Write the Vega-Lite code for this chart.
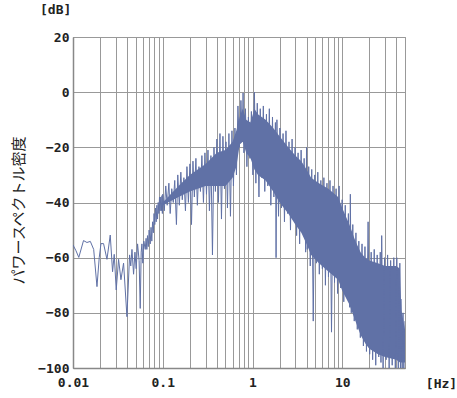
{
  "$schema": "https://vega.github.io/schema/vega-lite/v6.json",
  "autosize": "none",
  "width": 332,
  "height": 331,
  "padding": {"left": 73, "top": 37, "right": 52, "bottom": 30},
  "background": "white",
  "title": {"text": "[dB]", "anchor": "start", "frame": "group", "dx": -33, "dy": 12, "offset": 13, "baseline": "bottom", "font": "DejaVu Sans Mono", "fontWeight": "bold", "fontSize": 13, "color": "#222"},
  "datasets": {
    "band": [
      {"f":0.1,"hi":-40,"lo":-41},{"f":0.15,"hi":-34,"lo":-38},{"f":0.2,"hi":-30,"lo":-36},{"f":0.3,"hi":-26,"lo":-34},
      {"f":0.4,"hi":-22,"lo":-34},{"f":0.5,"hi":-21,"lo":-34},{"f":0.6,"hi":-18,"lo":-31},{"f":0.66,"hi":-14,"lo":-27},
      {"f":0.72,"hi":-9,"lo":-19},{"f":0.78,"hi":-6,"lo":-18},{"f":0.85,"hi":-10,"lo":-22},{"f":0.95,"hi":-11,"lo":-24},
      {"f":1.05,"hi":-6,"lo":-28},{"f":1.15,"hi":-8,"lo":-30},{"f":1.4,"hi":-10,"lo":-32},{"f":1.7,"hi":-13,"lo":-36},
      {"f":2.0,"hi":-16,"lo":-40},{"f":2.5,"hi":-20,"lo":-44},{"f":3.0,"hi":-23,"lo":-48},{"f":3.5,"hi":-25,"lo":-51},
      {"f":4.0,"hi":-28,"lo":-55},{"f":4.5,"hi":-31,"lo":-59},{"f":5.5,"hi":-33,"lo":-62},{"f":7,"hi":-35,"lo":-65},
      {"f":9,"hi":-38,"lo":-68},{"f":10,"hi":-42,"lo":-72},{"f":12,"hi":-48,"lo":-77},{"f":14,"hi":-54,"lo":-83},
      {"f":16,"hi":-58,"lo":-88},{"f":18,"hi":-60,"lo":-91},{"f":20,"hi":-61,"lo":-93},{"f":25,"hi":-62,"lo":-95},
      {"f":30,"hi":-63,"lo":-96},{"f":40,"hi":-63,"lo":-97},{"f":44,"hi":-64,"lo":-98},{"f":45.5,"hi":-79,"lo":-98},
      {"f":50,"hi":-86,"lo":-98}
    ],
    "spec": [
    {"f":0.0100,"db":-55.4},{"f":0.0108,"db":-57.5},{"f":0.0116,"db":-59.9},{"f":0.0131,"db":-53.8},{"f":0.0143,"db":-54.5},
    {"f":0.0156,"db":-54.1},{"f":0.0170,"db":-57},{"f":0.0185,"db":-70.5},{"f":0.0196,"db":-60},{"f":0.0205,"db":-54.9},
    {"f":0.0219,"db":-54.9},{"f":0.0239,"db":-60.6},{"f":0.0260,"db":-51.8},{"f":0.0276,"db":-65.1},{"f":0.0288,"db":-58.8},
    {"f":0.0303,"db":-71.7},{"f":0.0322,"db":-60.6},{"f":0.0342,"db":-68},{"f":0.0366,"db":-62},{"f":0.0399,"db":-81.4},
    {"f":0.0427,"db":-59},{"f":0.0440,"db":-63},{"f":0.0454,"db":-57},{"f":0.0473,"db":-66},{"f":0.0490,"db":-58},
    {"f":0.0506,"db":-64},{"f":0.0524,"db":-55},{"f":0.0545,"db":-61},{"f":0.0561,"db":-78.4},{"f":0.0575,"db":-58},
    {"f":0.0586,"db":-55},{"f":0.0600,"db":-62},{"f":0.0615,"db":-54},{"f":0.0638,"db":-57},{"f":0.0652,"db":-53},
    {"f":0.0665,"db":-57},{"f":0.0676,"db":-52},{"f":0.0690,"db":-56},{"f":0.0705,"db":-50},{"f":0.0725,"db":-55},
    {"f":0.0740,"db":-49},{"f":0.0755,"db":-54},{"f":0.0770,"db":-47},{"f":0.0785,"db":-51},{"f":0.0800,"db":-44},
    {"f":0.0815,"db":-48},{"f":0.0830,"db":-42},{"f":0.0845,"db":-47},{"f":0.0860,"db":-41},{"f":0.0875,"db":-46},
    {"f":0.0890,"db":-40},{"f":0.0905,"db":-44},{"f":0.0920,"db":-38},{"f":0.0935,"db":-43},{"f":0.0950,"db":-38},
    {"f":0.0965,"db":-43},{"f":0.0980,"db":-37.5},{"f":0.0990,"db":-44},
    {"f":0.100,"db":-37},{"f":0.104,"db":-43},{"f":0.108,"db":-34},{"f":0.112,"db":-41},{"f":0.117,"db":-33},
    {"f":0.121,"db":-44},{"f":0.126,"db":-35},{"f":0.131,"db":-40},{"f":0.136,"db":-32},{"f":0.142,"db":-48},
    {"f":0.147,"db":-30},{"f":0.153,"db":-41},{"f":0.159,"db":-29},{"f":0.165,"db":-39},{"f":0.172,"db":-31},
    {"f":0.179,"db":-43},{"f":0.186,"db":-27},{"f":0.193,"db":-40},{"f":0.201,"db":-26},{"f":0.209,"db":-48},
    {"f":0.217,"db":-25},{"f":0.225,"db":-38},{"f":0.234,"db":-24},{"f":0.243,"db":-41},{"f":0.253,"db":-27},
    {"f":0.263,"db":-36},{"f":0.273,"db":-23},{"f":0.284,"db":-40},{"f":0.295,"db":-22},{"f":0.307,"db":-37},
    {"f":0.319,"db":-21},{"f":0.331,"db":-43},{"f":0.344,"db":-23},{"f":0.358,"db":-59},{"f":0.372,"db":-20},
    {"f":0.386,"db":-36},{"f":0.401,"db":-17},{"f":0.417,"db":-40},{"f":0.434,"db":-15},{"f":0.451,"db":-46},
    {"f":0.468,"db":-16},{"f":0.487,"db":-35},{"f":0.506,"db":-18},{"f":0.526,"db":-42},{"f":0.546,"db":-15},
    {"f":0.568,"db":-45},{"f":0.590,"db":-14},{"f":0.613,"db":-34},{"f":0.637,"db":-13},{"f":0.662,"db":-30},
    {"f":0.688,"db":-5},{"f":0.715,"db":-20},{"f":0.743,"db":-3},{"f":0.772,"db":-18},{"f":0.785,"db":-0.3},
    {"f":0.802,"db":-22},{"f":0.834,"db":-6},{"f":0.866,"db":-27},{"f":0.900,"db":-9},{"f":0.936,"db":-24},
    {"f":0.972,"db":-7},{"f":1.01,"db":-30},{"f":1.05,"db":0},{"f":1.09,"db":-33},{"f":1.13,"db":-4},
    {"f":1.18,"db":-38},{"f":1.22,"db":-6},{"f":1.27,"db":-31},{"f":1.32,"db":-5},{"f":1.37,"db":-36},
    {"f":1.43,"db":-8},{"f":1.48,"db":-34},{"f":1.54,"db":-6},{"f":1.60,"db":-41},{"f":1.67,"db":-9},
    {"f":1.73,"db":-38},{"f":1.80,"db":-11},{"f":1.83,"db":-60},{"f":1.87,"db":-10},{"f":1.95,"db":-45},
    {"f":2.02,"db":-13},{"f":2.10,"db":-42},{"f":2.19,"db":-15},{"f":2.27,"db":-47},{"f":2.36,"db":-14},
    {"f":2.46,"db":-44},{"f":2.55,"db":-18},{"f":2.65,"db":-50},{"f":2.76,"db":-17},{"f":2.87,"db":-46},
    {"f":2.98,"db":-20},{"f":3.10,"db":-52},{"f":3.22,"db":-22},{"f":3.35,"db":-55},{"f":3.48,"db":-21},
    {"f":3.62,"db":-51},{"f":3.76,"db":-24},{"f":3.91,"db":-58},{"f":4.00,"db":-20},{"f":4.07,"db":-57},
    {"f":4.23,"db":-27},{"f":4.40,"db":-63},{"f":4.57,"db":-28},{"f":4.75,"db":-83},{"f":4.94,"db":-30},
    {"f":5.14,"db":-62},{"f":5.34,"db":-29},{"f":5.55,"db":-66},{"f":5.77,"db":-32},{"f":6.00,"db":-64},
    {"f":6.24,"db":-31},{"f":6.49,"db":-70},{"f":6.75,"db":-33},{"f":7.02,"db":-67},{"f":7.30,"db":-32},
    {"f":7.59,"db":-87},{"f":7.89,"db":-34},{"f":8.20,"db":-69},{"f":8.53,"db":-35},{"f":8.87,"db":-73},
    {"f":9.22,"db":-34},{"f":9.59,"db":-71},{"f":9.97,"db":-39},{"f":10.4,"db":-76},{"f":10.8,"db":-41},
    {"f":11.2,"db":-74},{"f":11.7,"db":-44},{"f":12.1,"db":-78},{"f":12.3,"db":-37},{"f":12.6,"db":-80},
    {"f":13.1,"db":-48},{"f":13.6,"db":-83},{"f":14.2,"db":-51},{"f":14.7,"db":-86},{"f":15.3,"db":-54},
    {"f":15.9,"db":-89},{"f":16.6,"db":-55},{"f":17.2,"db":-92},{"f":17.9,"db":-56},{"f":18.6,"db":-94},
    {"f":19.4,"db":-47},{"f":20.2,"db":-95},{"f":21.0,"db":-58},{"f":21.8,"db":-97},{"f":22.7,"db":-57},
    {"f":23.6,"db":-99},{"f":24.5,"db":-59},{"f":25.5,"db":-96},{"f":26.5,"db":-58},{"f":27.0,"db":-98},
    {"f":27.5,"db":-52},{"f":28.5,"db":-100},{"f":29.6,"db":-60},{"f":30.8,"db":-97},{"f":32.0,"db":-59},
    {"f":33.3,"db":-100},{"f":34.6,"db":-61},{"f":36.0,"db":-99},{"f":37.5,"db":-60},{"f":39.0,"db":-100},
    {"f":40.5,"db":-60},{"f":42.1,"db":-100},{"f":43.8,"db":-62},{"f":44.5,"db":-100},{"f":45.0,"db":-75},
    {"f":46.5,"db":-100},{"f":47.5,"db":-80},{"f":48.5,"db":-100},{"f":50.0,"db":-83}
    ]
  },
  "layer": [
    {
      "data": {"name": "band"},
      "mark": {"type": "area", "color": "#6071a6", "opacity": 1, "clip": true},
      "encoding": {
        "x": {"field": "f", "type": "quantitative"},
        "y": {"field": "hi", "type": "quantitative"},
        "y2": {"field": "lo"}
      }
    },
    {
      "data": {"name": "spec"},
      "mark": {"type": "line", "color": "#6071a6", "strokeWidth": 1, "clip": true},
      "encoding": {
        "x": {"field": "f", "type": "quantitative"},
        "y": {"field": "db", "type": "quantitative"}
      }
    }
  ],
  "encoding": {
    "x": {
      "field": "f", "type": "quantitative",
      "scale": {"type": "log", "domain": [0.01, 50], "nice": false},
      "axis": {
        "values": [0.01,0.02,0.03,0.04,0.05,0.06,0.07,0.08,0.09,0.1,0.2,0.3,0.4,0.5,0.6,0.7,0.8,0.9,1,2,3,4,5,6,7,8,9,10,20,30,40,50],
        "labelExpr": "datum.value == 0.01 ? '0.01' : datum.value == 0.1 ? '0.1' : datum.value == 1 ? '1' : datum.value == 10 ? '10' : ''",
        "labelOverlap": false,
        "labelFlush": false,
        "labelPadding": 8,
        "title": "[Hz]",
        "titleX": 368,
        "titleY": 15,
        "titleAlign": "center",
        "titleBaseline": "middle"
      }
    },
    "y": {
      "type": "quantitative",
      "scale": {"domain": [-100, 20], "nice": false, "zero": false},
      "axis": {
        "values": [-100,-80,-60,-40,-20,0,20],
        "labelPadding": 4,
        "title": "パワースペクトル密度",
        "titleX": -55,
        "titleY": 173,
        "titleAngle": 270,
        "titleAlign": "center",
        "titleBaseline": "middle",
        "titleFont": "Noto Sans CJK JP",
        "titleFontSize": 15,
        "titleFontWeight": "normal",
        "titleColor": "#222"
      }
    }
  },
  "config": {
    "view": {"stroke": "#999", "strokeWidth": 1},
    "axis": {
      "grid": true,
      "gridColor": "#999",
      "gridOpacity": 1,
      "gridWidth": 1,
      "ticks": false,
      "domainColor": "#888",
      "domainWidth": 1.5,
      "labelFont": "DejaVu Sans Mono",
      "labelFontWeight": "bold",
      "labelFontSize": 13,
      "labelColor": "#222",
      "titleFont": "DejaVu Sans Mono",
      "titleFontWeight": "bold",
      "titleFontSize": 13,
      "titleColor": "#222"
    }
  }
}
